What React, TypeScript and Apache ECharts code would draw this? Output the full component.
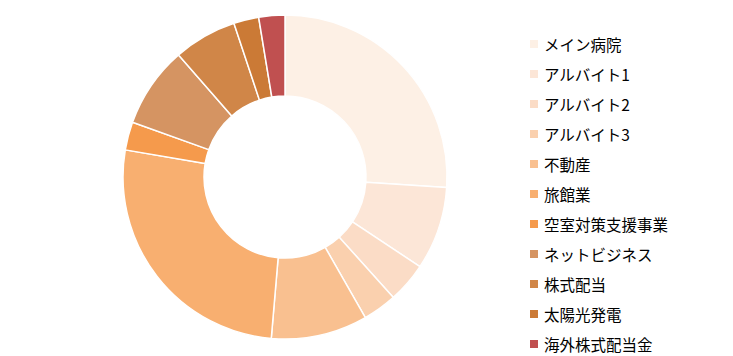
import React, { useEffect, useRef } from "react";
import * as echarts from "echarts";

const categories = [
  "メイン病院",
  "アルバイト1",
  "アルバイト2",
  "アルバイト3",
  "不動産",
  "旅館業",
  "空室対策支援事業",
  "ネットビジネス",
  "株式配当",
  "太陽光発電",
  "海外株式配当金",
];
const values = [260, 83, 40, 34, 96, 263, 28, 81, 63, 25, 26];
const colors = [
  "#FDF0E5",
  "#FCE6D7",
  "#FBDCC6",
  "#FAD0AE",
  "#F9C090",
  "#F8AF70",
  "#F59A4C",
  "#D59462",
  "#D08648",
  "#CB7A36",
  "#C05050",
];

export default function App() {
  const ref = useRef<HTMLDivElement>(null);
  useEffect(() => {
    if (!ref.current) return;
    const chart = echarts.init(ref.current, undefined, { renderer: "svg" });
    chart.setOption({
      animation: false,
      color: colors,
      legend: {
        orient: "vertical",
        left: 515,
        top: 23,
        height: 330,
        itemWidth: 10,
        itemHeight: 10,
        itemGap: 14,
        icon: "rect",
        textStyle: {
          fontSize: 15.5,
          lineHeight: 16,
          color: "#000",
          fontFamily: "'Noto Sans CJK JP', sans-serif",
        },
        data: categories,
      },
      series: [
        {
          type: "pie",
          center: [277, 169],
          radius: [81, 162],
          startAngle: 90,
          clockwise: true,
          label: { show: false },
          labelLine: { show: false },
          itemStyle: { borderColor: "#fff", borderWidth: 1.5 },
          emphasis: { disabled: true },
          data: categories.map((name, i) => ({ name, value: values[i] })),
        },
      ],
    });
    return () => chart.dispose();
  }, []);
  return <div ref={ref} style={{ width: 725, height: 348 }} />;
}
